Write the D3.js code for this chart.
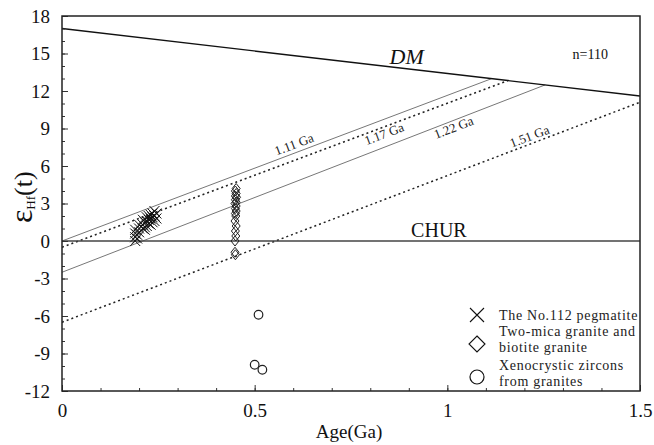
<!DOCTYPE html>
<html>
<head>
<meta charset="utf-8">
<script src="https://cdn.jsdelivr.net/npm/d3@7"></script>
<style>
  html, body { margin: 0; padding: 0; background: #fff; }
  svg text { font-family: 'Liberation Serif', 'DejaVu Serif', serif; }
</style>
</head>
<body>
<div id="chart"></div>
<script>
// ---- data ----
const X_TICKS = [0, 0.5, 1, 1.5];
const Y_TICKS = [-12, -9, -6, -3, 0, 3, 6, 9, 12, 15, 18];

const DM_LINE = [[0, 17.0], [1.5, 11.6]];
const CHUR_LINE = [[0, 0], [1.5, 0]];

const MODEL_NAMES = ['1.11 Ga', '1.17 Ga', '1.22 Ga', '1.51 Ga'];
const MODEL_START = [[0, 0], [0, -0.5], [0, -2.5], [0, -6.5]];
const MODEL_END = [[1.115, 12.99], [1.157, 12.83], [1.254, 12.49], [1.5, 11.1]];
const MODEL_DOTTED = [false, true, false, true];

const PEG_AGE = [0.19, 0.19, 0.19, 0.19, 0.195, 0.195, 0.2, 0.2, 0.2, 0.21, 0.21, 0.21,
  0.215, 0.215, 0.215, 0.22, 0.22, 0.22, 0.225, 0.225, 0.225, 0.23, 0.23, 0.23,
  0.235, 0.235, 0.235, 0.24, 0.24, 0.24, 0.245, 0.245];
const PEG_EPS = [0.0, 0.3, 0.6, 0.9, 0.5, 0.2, 1.0, 0.7, 1.3, 1.0, 1.3, 1.7,
  1.1, 1.5, 0.9, 1.2, 1.6, 1.9, 1.4, 1.7, 2.0, 1.3, 1.8, 2.1,
  1.5, 1.9, 2.2, 1.6, 2.0, 2.4, 1.8, 2.2];

const GRAN_AGE = [0.452, 0.45, 0.452, 0.45, 0.453, 0.45, 0.452, 0.449, 0.452, 0.45,
  0.452, 0.45, 0.451, 0.449, 0.452, 0.45, 0.451, 0.449, 0.449, 0.45];
const GRAN_EPS = [4.2, 4.0, 3.8, 3.6, 3.5, 3.3, 3.1, 3.0, 2.8, 2.6,
  2.4, 2.2, 2.0, 1.6, 1.2, 0.8, 0.4, 0.0, -0.9, -1.1];

const XENO_AGE = [0.51, 0.50, 0.52];
const XENO_EPS = [-5.9, -9.9, -10.3];

const LEGEND_LABELS = [['The No.112 pegmatite'], ['Two-mica granite and', 'biotite granite'],
  ['Xenocrystic zircons', 'from granites']];

// ---- layout ----
const W = 654, H = 445;
const m = { t: 16, r: 14, b: 54, l: 62 };
const w = W - m.l - m.r, h = H - m.t - m.b;
const SERIF = "'Liberation Serif', 'DejaVu Serif', serif";

const svg = d3.select('#chart').append('svg').attr('width', W).attr('height', H)
  .attr('font-family', SERIF);
const g = svg.append('g').attr('transform', `translate(${m.l},${m.t})`);

const x = d3.scaleLinear().domain([0, 1.5]).range([0, w]);
const y = d3.scaleLinear().domain([-12, 18]).range([h, 0]);

g.append('defs').append('clipPath').attr('id', 'clip')
  .append('rect').attr('width', w).attr('height', h);

const line = d3.line().x(d => x(d[0])).y(d => y(d[1]));
const plot = g.append('g').attr('clip-path', 'url(#clip)');

// model age lines
MODEL_NAMES.forEach((name, i) => {
  plot.append('path').datum([MODEL_START[i], MODEL_END[i]])
    .attr('fill', 'none')
    .attr('stroke', MODEL_DOTTED[i] ? '#222' : '#777')
    .attr('stroke-width', MODEL_DOTTED[i] ? 1.5 : 1)
    .attr('stroke-dasharray', MODEL_DOTTED[i] ? '2,3' : null)
    .attr('d', line);
});

// DM and CHUR
plot.append('path').datum(DM_LINE).attr('fill', 'none')
  .attr('stroke', '#111').attr('stroke-width', 1.4).attr('d', line);
plot.append('path').datum(CHUR_LINE).attr('fill', 'none')
  .attr('stroke', '#444').attr('stroke-width', 1.6).attr('d', line);

// model line labels
const LABEL_AT = [0.61, 0.83, 1.01, 1.22];
const LABEL_OFF = [-4, 11, 11, -3];
MODEL_NAMES.forEach((name, i) => {
  const [a0, e0] = MODEL_START[i], [a1, e1] = MODEL_END[i];
  const t = LABEL_AT[i];
  const ev = e0 + (e1 - e0) * (t - a0) / (a1 - a0);
  const ang = Math.atan2(y(e1) - y(e0), x(a1) - x(a0)) * 180 / Math.PI;
  g.append('text')
    .attr('transform', `translate(${x(t)},${y(ev)}) rotate(${ang}) translate(0,${LABEL_OFF[i]})`)
    .attr('text-anchor', 'middle').attr('font-size', 13).attr('fill', '#222')
    .text(name);
});

// markers
g.append('g').selectAll('path').data(PEG_AGE).join('path')
  .attr('transform', (d, i) => `translate(${x(d)},${y(PEG_EPS[i])})`)
  .attr('d', 'M-5,-5L5,5M-5,5L5,-5')
  .attr('fill', 'none').attr('stroke', '#111').attr('stroke-width', 1);

g.append('g').selectAll('path').data(GRAN_AGE).join('path')
  .attr('transform', (d, i) => `translate(${x(d)},${y(GRAN_EPS[i])})`)
  .attr('d', 'M0,-5L4,0L0,5L-4,0Z')
  .attr('fill', 'none').attr('stroke', '#222').attr('stroke-width', 1);

g.append('g').selectAll('circle').data(XENO_AGE).join('circle')
  .attr('cx', d => x(d)).attr('cy', (d, i) => y(XENO_EPS[i])).attr('r', 4.3)
  .attr('fill', 'none').attr('stroke', '#222').attr('stroke-width', 1.2);

// text annotations
g.append('text').attr('x', x(0.85)).attr('y', y(14.2)).attr('font-size', 22)
  .attr('font-style', 'italic').attr('fill', '#111').text('DM');
g.append('text').attr('x', x(1.325)).attr('y', y(14.6)).attr('font-size', 14)
  .attr('fill', '#111').text('n=110');
g.append('text').attr('x', x(0.906)).attr('y', y(0.3)).attr('font-size', 20)
  .attr('fill', '#111').text('CHUR');

// axes
const axB = g.append('g').attr('transform', `translate(0,${h})`);
axB.call(d3.axisBottom(x).tickValues(d3.range(0, 1.501, 0.1)).tickSize(-3).tickFormat(''))
  .call(a => a.select('.domain').remove());
axB.append('g').call(d3.axisBottom(x).tickValues(X_TICKS).tickSize(-6).tickPadding(13)
  .tickFormat(d => d))
  .call(a => a.select('.domain').remove());

const axL = g.append('g');
axL.call(d3.axisLeft(y).tickValues(d3.range(-12, 18.1, 1)).tickSize(-3).tickFormat(''))
  .call(a => a.select('.domain').remove());
axL.append('g').call(d3.axisLeft(y).tickValues(Y_TICKS).tickSize(-6).tickPadding(12)
  .tickFormat(d => d))
  .call(a => a.select('.domain').remove());

g.selectAll('.tick line').attr('stroke', '#333');
g.selectAll('.tick text').attr('font-size', 19).attr('fill', '#111')
  .attr('font-family', SERIF);

g.append('rect').attr('width', w).attr('height', h)
  .attr('fill', 'none').attr('stroke', '#222').attr('stroke-width', 1.5);

// axis titles
svg.append('text').attr('x', m.l + w / 2 - 2).attr('y', 438).attr('text-anchor', 'middle')
  .attr('font-size', 19).attr('fill', '#111').text('Age(Ga)');

const yt = svg.append('text').attr('transform', `translate(32,${m.t + y(3.5)}) rotate(-90)`)
  .attr('text-anchor', 'middle').attr('fill', '#111');
yt.append('tspan').attr('font-size', 32).text('ε');
yt.append('tspan').attr('font-size', 13).attr('dy', 3).text('Hf');
yt.append('tspan').attr('font-size', 26).attr('dy', -3).text('(t)');

// legend
const leg = svg.append('g').attr('transform', 'translate(477,0)');
const SYM_Y = [315, 344, 377];
const TEXT_Y = [[320], [336, 352], [370, 386]];
LEGEND_LABELS.forEach((lines, i) => {
  if (i === 0) leg.append('path').attr('d', 'M-7,-7L7,7M-7,7L7,-7')
    .attr('transform', `translate(0,${SYM_Y[i]})`)
    .attr('stroke', '#111').attr('fill', 'none').attr('stroke-width', 1.1);
  if (i === 1) leg.append('path').attr('d', 'M0,-8L8,0L0,8L-8,0Z')
    .attr('transform', `translate(0,${SYM_Y[i]})`)
    .attr('stroke', '#111').attr('fill', 'none').attr('stroke-width', 1.1);
  if (i === 2) leg.append('circle').attr('cy', SYM_Y[i]).attr('r', 7)
    .attr('stroke', '#111').attr('fill', 'none').attr('stroke-width', 1.2);
  lines.forEach((ln, j) => {
    leg.append('text').attr('x', 22).attr('y', TEXT_Y[i][j])
      .attr('font-size', 14).attr('letter-spacing', 0.7).attr('fill', '#222').text(ln);
  });
});
</script>
</body>
</html>
